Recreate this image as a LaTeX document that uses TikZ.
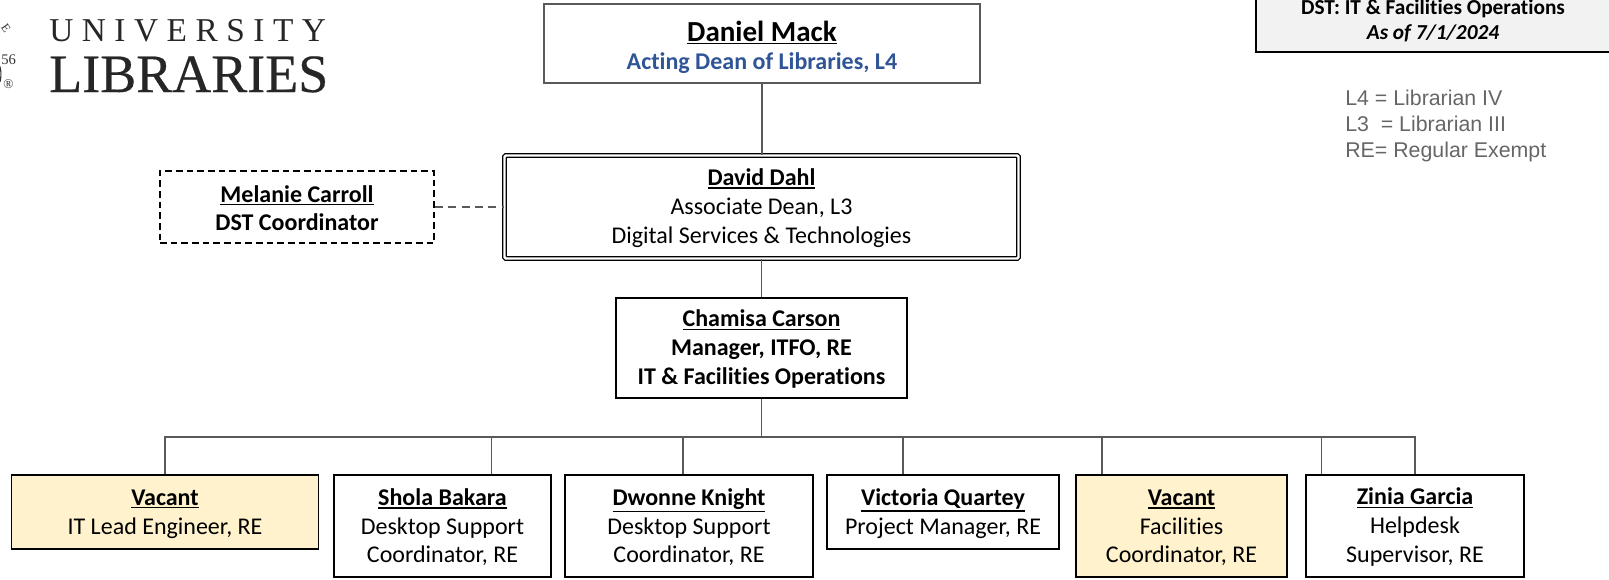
\documentclass[tikz,border=0pt]{standalone}
\usepackage{fontspec}
\setmainfont[Ligatures=CommonOff]{Carlito}
\newfontfamily\legendfont{Liberation Sans}
\newfontfamily\logofont{Liberation Serif}
\newfontfamily\logofontb[FakeBold=0.4]{Liberation Serif}
\definecolor{linegray}{HTML}{595959}
\definecolor{vacantfill}{HTML}{FFF2CC}
\definecolor{deanblue}{HTML}{2F5597}
\definecolor{legendgray}{HTML}{666666}
\definecolor{titlefill}{HTML}{F2F2F2}
\newcommand{\nm}[1]{\rule{0pt}{14.5pt}\leavevmode\vtop{\hbox{\textbf{#1}}\kern 1.1pt\hrule height 1.2pt}}
\tikzset{
  sz/.style 2 args={minimum width=#1*0.75pt,minimum height=#2*0.75pt},
  orgbox/.style={draw=black,line width=1.3pt,fill=white,inner sep=0pt,align=center,font=\fontsize{18}{21.6}\selectfont},
  vacantbox/.style={orgbox,fill=vacantfill},
  link/.style={draw=linegray,line width=1.3pt},
}
\begin{document}
\begin{tikzpicture}[x=0.75pt,y=-0.75pt]
\useasboundingbox (0,0) rectangle (1609,579);
% logo
\node[anchor=base west,inner sep=0pt,font=\logofont\fontsize{25}{25}\selectfont,text=black!85] (logo1) at (49,41) {U\hspace{6.4pt}N\hspace{6.4pt}I\hspace{6.4pt}V\hspace{6.4pt}E\hspace{6.4pt}R\hspace{6.4pt}S\hspace{6.4pt}I\hspace{6.4pt}T\hspace{6.4pt}Y};
\node[anchor=base west,inner sep=0pt,font=\logofontb\fontsize{40.5}{40}\selectfont,text=black!85] (logo2) at (49,92) {LIBRARIES};
\node[anchor=base west,inner sep=0pt,font=\logofont\fontsize{11}{11}\selectfont,text=black!80] (seal1) at (1,64) {56};
\node[anchor=base west,inner sep=0pt,font=\logofont\fontsize{10}{10}\selectfont,text=black!80] (seal2) at (3,88) {®};
\draw[black!80,line width=0.8pt] (0,82) arc (40:-40:4 and 12);
\node[inner sep=0pt,rotate=-55,font=\logofont\fontsize{9}{9}\selectfont,text=black!80] (seal3) at (6,28) {E};
% title
\node[draw=black,line width=1.4pt,fill=titlefill,sz={380}{72},inner sep=0pt,anchor=south west] (title) at (1255,53) {};
\node[inner sep=0pt,font=\fontsize{16}{18}\selectfont\bfseries,anchor=base] (t1) at (1433,14) {DST: IT \& Facilities Operations};
\node[inner sep=0pt,font=\fontsize{16}{18}\selectfont\bfseries\itshape,anchor=base] (t2) at (1433,39) {As of 7/1/2024};
% legend
\node[anchor=north west,inner sep=0pt,align=left,text=legendgray,font=\legendfont\fontsize{16}{19.6}\selectfont] (legend) at (1345,90) {L4 = Librarian IV\\L3\ \ = Librarian III\\RE= Regular Exempt};
% top
\node[orgbox,draw=linegray,line width=1.4pt,sz={436}{79}] (mack) at (762,43.5) {{\fontsize{21.8}{25}\selectfont\rule{0pt}{21pt}\nm{Daniel Mack}}\\{\color{deanblue}\textbf{Acting Dean of Libraries, L4}}};
\node[orgbox,line width=0.9pt,double,double distance=1.8pt,sz={514}{103},rounded corners=1pt] (dahl) at (761.5,207) {\nm{David Dahl}\\Associate Dean, L3\\Digital Services \& Technologies};
\node[orgbox,dashed,dash pattern=on 5pt off 3pt,sz={274}{72}] (carroll) at (297,207) {\nm{Melanie Carroll}\\\textbf{DST Coordinator}};
\node[orgbox,sz={291}{100}] (carson) at (761.5,348) {\nm{Chamisa Carson}\\\textbf{Manager, ITFO, RE}\\\textbf{IT \& Facilities Operations}};
% bottom row
\node[vacantbox,sz={307}{74}] (v1) at (165,512) {\nm{Vacant}\\IT Lead Engineer, RE};
\node[orgbox,sz={217}{102}] (shola) at (442.5,526) {\nm{Shola Bakara}\\Desktop Support\\Coordinator, RE};
\node[orgbox,sz={248}{102}] (dwonne) at (689,526) {\nm{Dwonne Knight}\\Desktop Support\\Coordinator, RE};
\node[orgbox,sz={232}{74}] (vic) at (943,512) {\nm{Victoria Quartey}\\Project Manager, RE};
\node[vacantbox,sz={211}{102}] (v2) at (1181.5,526) {\nm{Vacant}\\Facilities\\Coordinator, RE};
\node[orgbox,sz={218}{102}] (zinia) at (1415,526) {\nm{Zinia Garcia}\\Helpdesk\\Supervisor, RE};
% connectors
\coordinate (bL) at (165,437);
\coordinate (bR) at (1415,437);
\coordinate (d2) at (491.5,437);
\coordinate (d3) at (683,437);
\coordinate (d4) at (903,437);
\coordinate (d5) at (1102,437);
\coordinate (d6) at (1321.5,437);
\draw[link] (mack.south) -- (mack.south |- dahl.north);
\draw[link] (dahl.south) -- (carson.north);
\draw[link,dashed,dash pattern=on 6pt off 4pt,line width=1pt] (carroll.east) -- (dahl.west);
\draw[link] (carson.south) -- (carson.south |- bL);
\draw[link] (bL |- v1.north) -- (bL) -- (bR) -- (bR |- zinia.north);
\draw[link] (d2) -- (d2 |- shola.north);
\draw[link] (d3) -- (d3 |- dwonne.north);
\draw[link] (d4) -- (d4 |- vic.north);
\draw[link] (d5) -- (d5 |- v2.north);
\draw[link] (d6) -- (d6 |- zinia.north);
\end{tikzpicture}
\end{document}
